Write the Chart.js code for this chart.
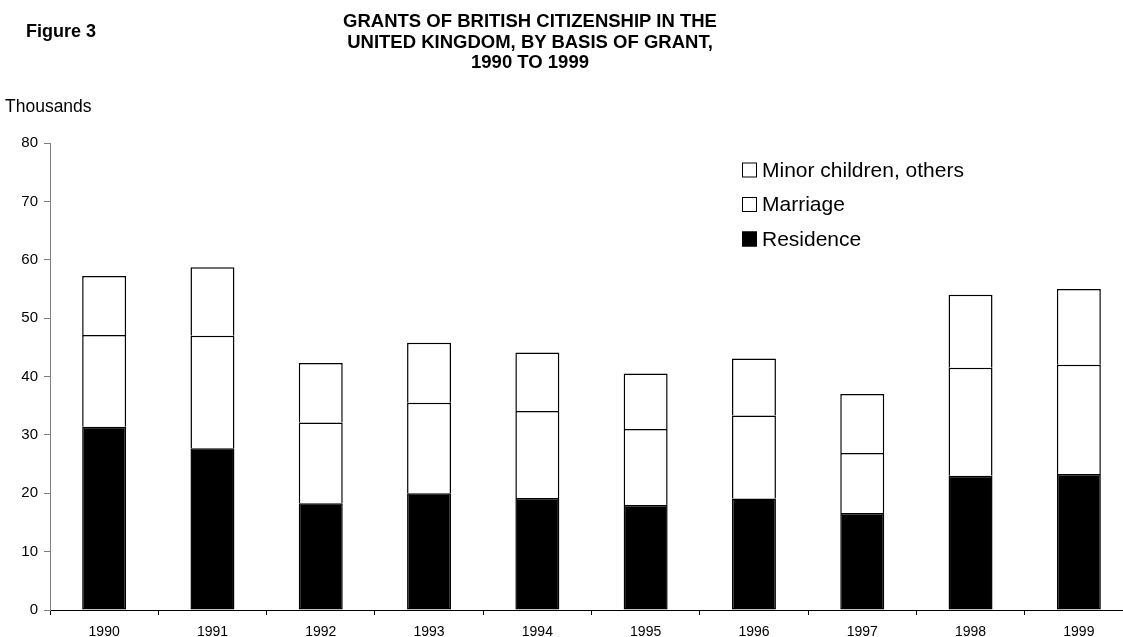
<!DOCTYPE html>
<html>
<head>
<meta charset="utf-8">
<script src="https://cdn.jsdelivr.net/npm/chart.js@4"></script>
<style>
  html, body { margin: 0; padding: 0; background: #fff; overflow: hidden; width: 1123px; height: 637px; }
  #wrap { position: absolute; left: 0; top: 0; width: 1140px; height: 637px; }
  .txt { position: absolute; font-family: "Liberation Sans", Arial, sans-serif; color: #000; white-space: nowrap; }
  #fig { left: 26px; top: 21px; font-size: 18px; font-weight: bold; }
  #title { left: 330px; width: 400px; top: 11px; font-size: 18.5px; font-weight: bold; text-align: center; line-height: 20.5px; }
  #units { left: 5px; top: 96px; font-size: 17.5px; }
</style>
</head>
<body>
<div id="wrap"><canvas id="c" width="1140" height="637"></canvas></div>
<div class="txt" id="fig">Figure 3</div>
<div class="txt" id="title">GRANTS OF BRITISH CITIZENSHIP IN THE<br>UNITED KINGDOM, BY BASIS OF GRANT,<br>1990 TO 1999</div>
<div class="txt" id="units">Thousands</div>
<script>
const years = ["1990","1991","1992","1993","1994","1995","1996","1997","1998","1999"];
const residence = [31.4, 27.7, 18.3, 20.0, 19.2, 18.0, 19.1, 16.6, 23.0, 23.3];
const marriage  = [15.7, 19.3, 13.8, 15.5, 14.9, 13.0, 14.2, 10.3, 18.5, 18.7];
const minorOthers = [10.1, 11.7, 10.2, 10.3, 10.0, 9.5, 9.8, 10.1, 12.5, 13.0];
const yTicks = [0, 10, 20, 30, 40, 50, 60, 70, 80];

const FONT = '"Liberation Sans", Arial, sans-serif';

const insideLegend = {
  id: 'insideLegend',
  afterDraw(chart) {
    const ctx = chart.ctx;
    const ds = chart.data.datasets.slice().reverse();
    const x0 = 742, box = 15, rowH = 34.5, y0 = 170;
    ctx.save();
    ctx.font = '21px ' + FONT;
    ctx.textBaseline = 'middle';
    ds.forEach((d, i) => {
      const yc = y0 + i * rowH;
      ctx.fillStyle = d.backgroundColor;
      ctx.fillRect(x0, yc - box / 2, box, box);
      ctx.strokeStyle = '#000';
      ctx.lineWidth = 1;
      ctx.strokeRect(x0 + 0.5, yc - box / 2 + 0.5, box - 1, box - 1);
      ctx.fillStyle = '#000';
      ctx.fillText(d.label, x0 + box + 5, yc + 1);
    });
    ctx.restore();
  }
};

new Chart(document.getElementById('c'), {
  type: 'bar',
  data: {
    labels: years,
    datasets: [
      { label: 'Residence', data: residence, backgroundColor: '#000', borderColor: '#000', borderWidth: 1.5, borderSkipped: false },
      { label: 'Marriage', data: marriage, backgroundColor: '#fff', borderColor: '#000', borderWidth: {top: 1.5, left: 1.5, right: 1.5, bottom: 0}, borderSkipped: false },
      { label: 'Minor children, others', data: minorOthers, backgroundColor: '#fff', borderColor: '#000', borderWidth: {top: 1.5, left: 1.5, right: 1.5, bottom: 0}, borderSkipped: false }
    ]
  },
  options: {
    responsive: false,
    animation: false,
    devicePixelRatio: 1,
    layout: { padding: { top: 143, right: 7, left: 0, bottom: 0 } },
    datasets: { bar: { categoryPercentage: 1.0, barPercentage: 0.406 } },
    plugins: { legend: { display: false }, tooltip: { enabled: false }, title: { display: false } },
    scales: {
      x: {
        stacked: true,
        offset: true,
        grid: { display: true, drawOnChartArea: false, offset: true, tickLength: 5, color: '#000', lineWidth: 1 },
        border: { display: true, color: '#000', width: 1 },
        ticks: { color: '#000', font: { family: FONT, size: 14 }, padding: 9, maxRotation: 0, autoSkip: false },
        afterFit(s) { s.height = 27; }
      },
      y: {
        stacked: true,
        min: 0, max: 80,
        afterBuildTicks(s) { s.ticks = yTicks.map(v => ({ value: v })); },
        grid: { display: true, drawOnChartArea: false, tickLength: 6, color: '#808080', lineWidth: 1 },
        border: { display: true, color: '#808080', width: 1 },
        ticks: { color: '#000', font: { family: FONT, size: 15 }, padding: 6 },
        afterFit(s) { s.width = 50; }
      }
    }
  },
  plugins: [insideLegend]
});
</script>
</body>
</html>
